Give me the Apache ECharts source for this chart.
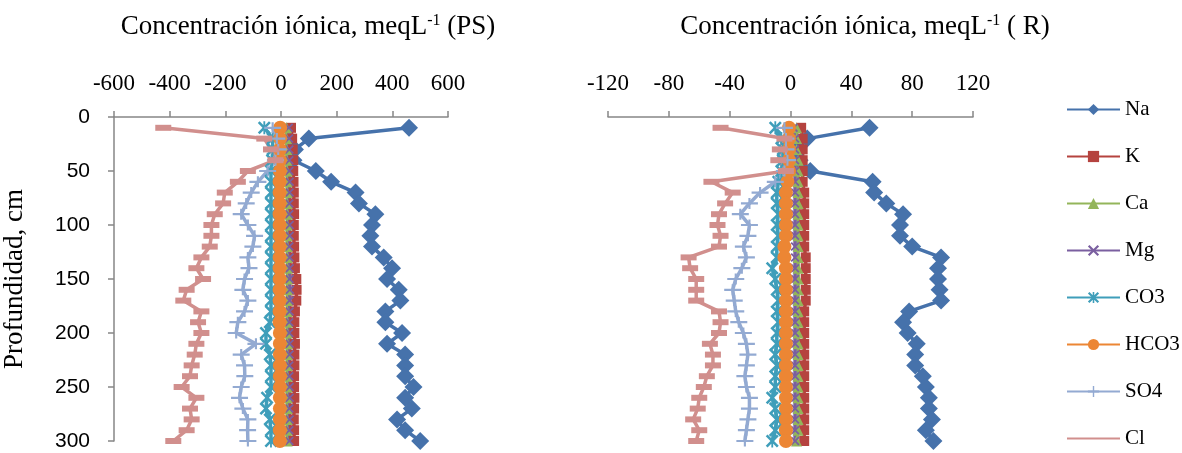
<!DOCTYPE html>
<html>
<head>
<meta charset="utf-8">
<script src="https://cdn.jsdelivr.net/npm/echarts@6/dist/echarts.min.js"></script>
<style>
  html, body { margin: 0; padding: 0; background: #fff; }
  #chart { width: 1182px; height: 453px; }
</style>
</head>
<body>
<div id="chart"></div>
<script>
// profundidad (cm)
const depth = [10, 20, 30, 40, 50, 60, 70, 80, 90, 100, 110, 120, 130, 140, 150, 160, 170, 180, 190, 200, 210, 220, 230, 240, 250, 260, 270, 280, 290, 300];
const ions = ['Na', 'K', 'Ca', 'Mg', 'CO3', 'HCO3', 'SO4', 'Cl'];

// panel PS (meq/L)
const naPS = [460, 100, 50, 45, 125, 180, 268, 280, 339, 327, 321, 327, 369, 399, 381, 423, 429, 375, 375, 435, 381, 446, 446, 446, 476, 446, 470, 417, 446, 500];
const kPS = [36, 40, 42, 44, 44, 45, 46, 46, 47, 46, 46, 47, 48, 50, 55, 56, 55, 50, 48, 48, 50, 48, 48, 47, 47, 48, 47, 46, 47, 47];
const caPS = [20, 20, 21, 21, 22, 22, 22, 22, 23, 22, 22, 22, 23, 23, 23, 23, 23, 22, 22, 22, 23, 22, 22, 22, 22, 22, 22, 22, 22, 22];
const mgPS = [28, 29, 30, 30, 30, 31, 31, 30, 30, 31, 31, 30, 31, 31, 31, 32, 31, 31, 30, 30, 31, 31, 30, 30, 31, 31, 30, 31, 30, 30];
const co3PS = [-60, -30, -30, -32, -36, -36, -36, -36, -36, -36, -36, -36, -36, -36, -36, -36, -36, -36, -40, -54, -54, -40, -36, -36, -36, -50, -54, -40, -36, -36];
const hco3PS = [-3, -3, -4, -4, -4, -5, -5, -5, -5, -5, -5, -5, -5, -5, -5, -5, -5, -5, -5, -4, -4, -4, -4, -4, -4, -4, -4, -4, -4, -4];
const so4PS = [-30, -15, -10, -20, -48, -83, -107, -125, -143, -119, -95, -101, -119, -115, -131, -137, -119, -131, -155, -161, -90, -143, -131, -130, -143, -149, -137, -119, -120, -119];
const clPS = [-423, -60, -36, -20, -119, -155, -202, -208, -238, -250, -250, -256, -286, -304, -280, -339, -351, -286, -298, -286, -304, -310, -321, -327, -357, -304, -327, -321, -339, -387];

// panel R (meq/L)
const naR = [52, 11, 5, 6, 13, 54, 55, 63, 74, 72, 72, 80, 99, 97, 97, 98, 99, 78, 74, 77, 83, 82, 82, 87, 89, 91, 91, 93, 89, 94];
const kR = [7, 8, 8, 8, 8, 8, 9, 9, 9, 9, 9, 9, 10, 10, 10, 10, 10, 9, 9, 9, 9, 9, 9, 9, 9, 9, 9, 9, 9, 9];
const caR = [4, 4, 4, 5, 5, 5, 5, 5, 5, 5, 5, 5, 5, 5, 5, 5, 5, 5, 5, 5, 5, 5, 5, 5, 5, 5, 5, 5, 5, 4];
const mgR = [2, 3, 3, 3, 3, 3, 3, 3, 3, 3, 3, 3, 3, 3, 3, 3, 3, 3, 3, 3, 3, 3, 3, 3, 3, 3, 3, 3, 3, 3];
const co3R = [-10, -6, -5, -5, -6, -8, -9, -9, -8, -9, -8, -9, -9, -12, -10, -9, -8, -9, -8, -9, -9, -10, -9, -10, -10, -12, -10, -9, -10, -12];
const hco3R = [-1, -1, -1, -1, -1, -2, -3, -3, -3, -3, -3, -4, -4, -3, -3, -3, -3, -3, -3, -3, -3, -3, -3, -3, -3, -3, -3, -3, -3, -3];
const so4R = [-4, -3, -3, -2, -4, -10, -20, -27, -33, -27, -28, -31, -29, -32, -36, -38, -37, -36, -34, -31, -29, -28, -29, -30, -29, -27, -27, -28, -29, -30];
const clR = [-46, -4, -7, -8, -3, -52, -38, -43, -47, -48, -46, -47, -67, -66, -62, -62, -62, -47, -46, -47, -53, -51, -51, -55, -57, -60, -61, -64, -60, -62];

const xTicksPS = [-600, 600, 200];
const xTicksR = [-120, 120, 40];
const yTicks = [0, 300, 50];

const valuesPS = [naPS, kPS, caPS, mgPS, co3PS, hco3PS, so4PS, clPS];
const valuesR = [naR, kR, caR, mgR, co3R, hco3R, so4R, clR];

// marcadores tipo Excel
const xPath = 'path://M0,1.4 L1.4,0 L5,3.6 L8.6,0 L10,1.4 L6.4,5 L10,8.6 L8.6,10 L5,6.4 L1.4,10 L0,8.6 L3.6,5 Z';
const starPath = xPath + ' M4.3,0 L5.7,0 L5.7,10 L4.3,10 Z';
const plusPath = 'path://M0,4 L16,4 L16,6 L0,6 Z M7,0 L9,0 L9,10 L7,10 Z';

const ionStyle = {
  Na: { color: '#4672AB', symbol: 'diamond', size: 18 },
  K: { color: '#B5433F', symbol: 'rect', size: 10 },
  Ca: { color: '#93B55A', symbol: 'triangle', size: 11 },
  Mg: { color: '#7A5FA0', symbol: xPath, size: 9 },
  CO3: { color: '#3F9EBA', symbol: starPath, size: 13 },
  HCO3: { color: '#EC8634', symbol: 'circle', size: 14 },
  SO4: { color: '#93AAD2', symbol: plusPath, size: [17, 11] },
  Cl: { color: '#D18F8D', symbol: 'rect', size: [16, 6] },
};

const serif = '"Liberation Serif", "Times New Roman", serif';
const sans = '"Liberation Sans", Arial, sans-serif';
const axisGray = '#868686';

function makeSeries(values, idx) {
  return ions.map((name, i) => {
    const st = ionStyle[name];
    return {
      name: name,
      type: 'line',
      xAxisIndex: idx,
      yAxisIndex: idx,
      data: depth.map((d, j) => [values[i][j], d]),
      symbol: st.symbol,
      symbolSize: st.size,
      showAllSymbol: true,
      lineStyle: { color: st.color, width: 3.5 },
      itemStyle: { color: st.color, borderColor: st.color, borderWidth: 0 },
      emphasis: { disabled: true },
    };
  });
}

function xAxisOf(idx, ticks) {
  return {
    type: 'value',
    gridIndex: idx,
    position: 'top',
    min: ticks[0],
    max: ticks[1],
    interval: ticks[2],
    axisLine: { onZero: false, lineStyle: { color: axisGray, width: 1.5 } },
    axisTick: { show: true, length: 6, lineStyle: { color: axisGray, width: 1.5 } },
    splitLine: { show: false },
    axisLabel: { fontFamily: serif, fontSize: 23, color: '#000', margin: 22 },
  };
}

function titleOf(text, x) {
  return {
    text: text,
    left: x, top: 8, textAlign: 'center',
    textStyle: {
      rich: {
        a: { fontFamily: serif, fontSize: 27, fontWeight: 'normal', color: '#000' },
        s: { fontFamily: serif, fontSize: 16, fontWeight: 'normal', color: '#000', verticalAlign: 'top', padding: [0, 0, 12, 0] },
      },
    },
  };
}

// en la leyenda, Cl se ve sólo como línea
const legendData = ions.map((name) => (name === 'Cl' ? { name: name, itemStyle: { opacity: 0 } } : name));

const chart = echarts.init(document.getElementById('chart'));
chart.setOption({
  animation: false,
  backgroundColor: '#fff',
  title: [
    titleOf('{a|Concentración iónica, meqL}{s|-1}{a| (PS)}', 303),
    titleOf('{a|Concentración iónica, meqL}{s|-1}{a| ( R)}', 860),
  ],
  legend: {
    data: legendData,
    orient: 'vertical',
    left: 1061,
    top: 94,
    height: 359,
    itemWidth: 53,
    itemHeight: 14,
    itemGap: 26,
    textStyle: { fontFamily: serif, fontSize: 21, color: '#000', lineHeight: 21 },
  },
  grid: [
    { left: 112, top: 117, width: 336, height: 324 },
    { left: 608, top: 117, width: 365, height: 324 },
  ],
  xAxis: [xAxisOf(0, xTicksPS), xAxisOf(1, xTicksR)],
  yAxis: [
    {
      type: 'value',
      gridIndex: 0,
      inverse: true,
      min: yTicks[0],
      max: yTicks[1],
      interval: yTicks[2],
      name: 'Profundidad, cm',
      nameLocation: 'middle',
      nameGap: 86,
      nameRotate: 90,
      nameTextStyle: { fontFamily: serif, fontSize: 27, color: '#000' },
      axisLine: { show: true, onZero: false, lineStyle: { color: axisGray, width: 1.5 } },
      axisTick: { show: true, length: 6, lineStyle: { color: axisGray, width: 1.5 } },
      splitLine: { show: false },
      axisLabel: { fontFamily: sans, fontSize: 21, color: '#000', margin: 24 },
    },
    {
      type: 'value',
      gridIndex: 1,
      inverse: true,
      min: yTicks[0],
      max: yTicks[1],
      interval: yTicks[2],
      axisLine: { show: false, onZero: false },
      axisTick: { show: false },
      splitLine: { show: false },
      axisLabel: { show: false },
    },
  ],
  series: makeSeries(valuesPS, 0).concat(makeSeries(valuesR, 1)),
});
</script>
</body>
</html>
